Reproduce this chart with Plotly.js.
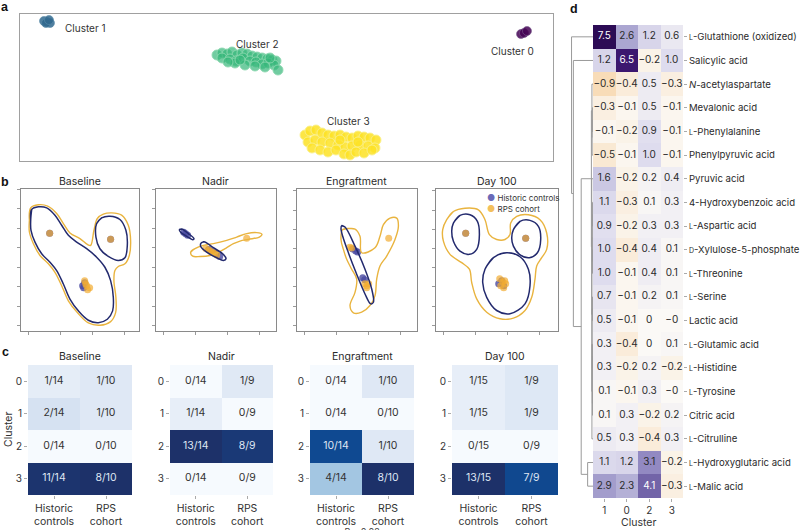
<!DOCTYPE html>
<html><head><meta charset="utf-8">
<script src="https://cdn.plot.ly/plotly-3.0.1.min.js"></script>
<style>html,body{margin:0;padding:0;background:#fff;}#chart{width:800px;height:530px;}</style>
</head><body><div id="chart"></div>
<script>
// ================= DATA =================
// Panel a: embedding coordinates per cluster
const a_c0_x = [501, 504, 507];
const a_c0_y = [127, 128, 130];
const a_c1_x = [24, 27, 30, 26, 29];
const a_c1_y = [140, 139, 138, 138, 141];
const a_c2_x = [197,202,207,212,217,222,227,232,237,242,247,252,256,202,210,216,223,230,236,242,248,254,258,215,225,235,245,208,220,250];
const a_c2_y = [106,108,107,109,106,108,107,105,104,103,102,101,100,103,102,100,103,100,99,97,98,96,91,98,96,95,94,99,101,103];
const a_c3_x = [285,290,296,302,308,314,320,326,332,338,344,350,356,288,295,302,310,318,325,332,340,348,355,292,300,308,316,324,330,336,344,352,320,338];
const a_c3_y = [26,30,31,28,26,25,26,24,23,25,24,23,21,19,21,19,18,16,14,15,16,15,13,13,11,9,11,7,6,9,8,11,21,19];

// Panel b: density contour rings (historic controls / RPS cohort) and sample points
const b_titles = ['Baseline', 'Nadir', 'Engraftment', 'Day 100'];
const b_hc_rings_x = [
  [[10,11,17.7,26,34.3,41,47.7,56,66,76,84.3,90,92.7,92,86.7,77.7,67.7,57.7,49.3,42.7,36,29.3,21,14.3,10.3],
   [76,81,89.3,99.3,105.3,106.7,104.3,97.7,87.7,79.3,75.3]],
  [[23.7,26,32.7,38.3,37,31,25],
   [45.3,48.3,57.7,67.7,70.3,67.7,61,51,45]],
  [[45,48.3,58.3,68.3,75,76.7,74,68.3,59.3,51.7,46,44.3]],
  [[17.7,24.3,34.3,41.7,43.7,41,33.7,24.3,17.7,16],
   [77.7,84.3,94.3,102.7,105,101.7,93.7,83.7,77.7,76],
   [49.3,57.7,71,84.3,92.7,94.3,89.3,74.3,61,51,47]]
];
const b_hc_rings_y = [
  [[110,120.7,123.3,122.3,115,105,95,88.3,81.7,73.3,63.3,50,33.3,20,11.7,8.3,10.7,20,31.7,46.7,60,68.3,76.7,88.3,100],
   [106.7,112.3,114,110.7,100,85,72.7,70,74,81.7,93.3]],
  [[100.7,101.3,96.7,91.7,90.7,94,98],
   [87.3,88.7,82.7,76,71.7,70,72.7,78.3,84]],
  [[105.7,104.3,85,61.7,41.7,28.3,26.7,36.7,58.3,78.3,95,102.3]],
  [[108.3,116,116.7,110,96.7,81.7,76.7,80,90,100],
   [101.7,110,111,105,91.7,78.3,73.3,76.7,85,93.3],
   [61.7,73.3,78.3,74.3,61.7,45,26.7,16.7,20,33.3,48.3]]
];
const b_rps_rings_x = [
  [[8.7,10,17.7,27,36,42.7,49.3,59.3,66.7,70,73.3,76.7,82.7,91,101,107.7,110,108.7,104.3,97.7,94.3,93.3,95.3,95,90,79.3,67.7,56.7,47.7,41,34.3,27.7,19.3,12.7,8.7]],
  [[35,39.3,47.7,57.7,71,81,91,101,106.3,103.7,92.7,84.3,77.7,71,62.7,54.3,44.3,37]],
  [[46,58.3,63.3,65,78.3,83.3,86.7,93.3,100,101.7,98.3,90,83.3,80,78.3,73.3,65,56.7,53.3,58.3,60,55,50,46.7,44.3]],
  [[11,17.7,29.3,42.7,49.3,53.7,61,69.3,74.3,75,81,92.7,104.3,111,111,106,101,99.3,96,89.3,77.7,64.3,51,41,36,33.7,26,14.3,7.7,7]]
];
const b_rps_rings_y = [
  [[110,122.3,125.3,124,116.7,106.7,97.3,91.7,86,85,100,111.7,116,117.3,115,105,90,75,66.7,64,60,50,33.3,18.3,9.3,5.7,8,18.3,30,45,58.3,66.7,75,86.7,98.3]],
  [[78.3,81.7,85,86.7,90,93.3,96.7,97.7,96,93.3,91,89.3,86.7,82.7,78.3,75,74,74.3]],
  [[101.7,102.3,95,78.3,83.3,95,106.7,113.3,113.3,105,91.7,75,65,51.7,35,25,18.3,17.7,25,38.3,51.7,61.7,71.7,81.7,91.7]],
  [[111.7,120,123.3,121.7,111.7,96.7,91.7,91.7,96.7,108.3,115,116.7,111.7,98.3,81.7,73.3,65,51.7,33.3,20,12.3,11.7,18.3,31.7,48.3,61.7,68.3,76.7,90,101.7]]
];
const b_hc_pts_x = [[29,90,62,64,63],[28,30,32,53,57,60,64],[56,59,61,66,68],[30,90,63,66,68]];
const b_hc_pts_y = [[97,91,45,48,43],[98,96.5,95,81,79,77,74],[82,80,79,53,51],[98,93,47,50,45]];
const b_rps_pts_x = [[29,90,64,66,69,67,65],[50,53,55,57,59,61,91],[53,55,68,70,72,70,92],[30,90,64,67,70,68,65,69]];
const b_rps_pts_y = [[97,91,50,45,43,41,47],[82,80.5,79,78,77,75.5,92],[84,83,47,45,47,43,93],[98,93,52,49,47,43,45,50]];

// Panel c: cluster membership counts
const c_titles = ['Baseline', 'Nadir', 'Engraftment', 'Day 100'];
const c_groups = ['Historic<br>controls', 'RPS<br>cohort'];
const c_clusters = ['0', '1', '2', '3'];
const c_hc_num  = [[1,2,0,11],[0,1,13,0],[0,0,10,4],[1,1,0,13]];
const c_hc_den  = [14, 14, 14, 15];
const c_rps_num = [[1,1,0,8],[1,0,8,0],[1,0,1,8],[1,1,0,7]];
const c_rps_den = [10, 9, 10, 9];

// Panel d: metabolite enrichment per cluster
const d_clusters = ['1', '0', '2', '3'];
const d_metabolites = [
  '<span style="font-size:7px">L</span>-Glutathione (oxidized)',
  'Salicylic acid',
  '<i>N</i>-acetylaspartate',
  'Mevalonic acid',
  '<span style="font-size:7px">L</span>-Phenylalanine',
  'Phenylpyruvic acid',
  'Pyruvic acid',
  '4-Hydroxybenzoic acid',
  '<span style="font-size:7px">L</span>-Aspartic acid',
  '<span style="font-size:7px">D</span>-Xylulose-5-phosphate',
  '<span style="font-size:7px">L</span>-Threonine',
  '<span style="font-size:7px">L</span>-Serine',
  'Lactic acid',
  '<span style="font-size:7px">L</span>-Glutamic acid',
  '<span style="font-size:7px">L</span>-Histidine',
  '<span style="font-size:7px">L</span>-Tyrosine',
  'Citric acid',
  '<span style="font-size:7px">L</span>-Citrulline',
  '<span style="font-size:7px">L</span>-Hydroxyglutaric acid',
  '<span style="font-size:7px">L</span>-Malic acid'
];
const d_values = [
  [7.5, 2.6, 1.2, 0.6],
  [1.2, 6.5, -0.2, 1.0],
  [-0.9, -0.4, 0.5, -0.3],
  [-0.3, -0.1, 0.5, -0.1],
  [-0.1, -0.2, 0.9, -0.1],
  [-0.5, -0.1, 1.0, -0.1],
  [1.6, -0.2, 0.2, 0.4],
  [1.1, -0.3, 0.1, 0.3],
  [0.9, -0.2, 0.3, 0.3],
  [1.0, -0.4, 0.4, 0.1],
  [1.0, -0.1, 0.4, 0.1],
  [0.7, -0.1, 0.2, 0.1],
  [0.5, -0.1, 0, -0],
  [0.3, -0.4, 0, 0.1],
  [0.3, -0.2, 0.2, -0.2],
  [0.1, -0.1, 0.3, -0],
  [0.1, 0.3, -0.2, 0.2],
  [0.5, 0.3, -0.4, 0.3],
  [1.1, 1.2, 3.1, -0.2],
  [2.9, 2.3, 4.1, -0.3]
];
// dendrogram links (row positions / merge heights)
const d_link_rows = [
  [3,3,4,4],[3.5,3.5,5,5],[2,2,4.25,4.25],
  [7,7,8,8],[9,9,10,10],[7.5,7.5,9.5,9.5],
  [11,11,12,12],[13,13,14,14],[15,15,16,16],[13.5,13.5,15.5,15.5],
  [11.5,11.5,14.5,14.5],[13,13,17,17],[8.5,8.5,15,15],[6,6,11.75,11.75],
  [3.125,3.125,8.875,8.875],[18,18,19,19],[6,6,18.5,18.5],
  [1,1,12.25,12.25],[0,0,6.625,6.625]
];
const d_link_heights = [
  [0,0.6,0.6,0],[0.6,0.8,0.8,0],[0,1.0,1.0,0.8],
  [0,0.4,0.4,0],[0,0.4,0.4,0],[0.4,0.6,0.6,0.4],
  [0,0.4,0.4,0],[0,0.3,0.3,0],[0,0.4,0.4,0],[0.3,0.6,0.6,0.4],
  [0.4,0.8,0.8,0.6],[0.8,1.0,1.0,0],[0.6,1.1,1.1,1.0],[0,1.2,1.2,1.1],
  [1.0,1.5,1.5,1.2],[0,5,5,0],[1.5,11,11,5],
  [0,18.3,18.3,11],[0,20,20,18.3]
];

// ================= BUILD =================
const W = 800, H = 530;
const FONT = 'Inter, "Noto Sans", sans-serif';
const dx = (a, b) => [a / W, b / W];
const dy = (top, bot) => [1 - bot / H, 1 - top / H];
const traces = [];
const layout = {
  width: W, height: H, margin: {l: 0, r: 0, t: 0, b: 0},
  paper_bgcolor: '#fff', plot_bgcolor: 'rgba(0,0,0,0)',
  showlegend: false, font: {family: FONT, size: 10, color: '#333'},
  annotations: []
};
function ann(text, x, y, o) {
  layout.annotations.push(Object.assign({text: text, x: x / W, y: 1 - y / H, xref: 'paper', yref: 'paper',
    showarrow: false, xanchor: 'center', yanchor: 'middle', font: {family: FONT, size: 10.5, color: '#2a2a2a'}}, o || {}));
}
const plain = {showgrid: false, zeroline: false};

// ---- Panel a ----
layout.xaxis = Object.assign({domain: dx(20, 553), range: [0, 533], showline: true, mirror: true, linecolor: '#a0a0a0', linewidth: 1, showticklabels: false, ticks: ''}, plain);
layout.yaxis = Object.assign({domain: dy(14, 161), range: [0, 147], showline: true, mirror: true, linecolor: '#a0a0a0', linewidth: 1, showticklabels: false, ticks: ''}, plain);
const aSets = [
  [a_c0_x, a_c0_y, 'rgba(68,1,84,0.85)', 'rgba(120,90,140,0.6)', 9],
  [a_c1_x, a_c1_y, 'rgba(49,104,142,0.85)', 'rgba(90,140,170,0.6)', 9],
  [a_c2_x, a_c2_y, 'rgba(53,183,121,0.7)', 'rgba(140,215,175,0.9)', 10],
  [a_c3_x, a_c3_y, 'rgba(253,226,37,0.85)', 'rgba(250,240,140,0.9)', 10]
];
aSets.forEach(s => traces.push({type: 'scatter', mode: 'markers', x: s[0], y: s[1], xaxis: 'x', yaxis: 'y',
  marker: {color: s[2], size: s[4], line: {color: s[3], width: 1}}, hoverinfo: 'skip'}));
ann('Cluster 1', 85, 28, {font: {family: FONT, size: 10, color: '#333'}});
ann('Cluster 2', 257, 44, {font: {family: FONT, size: 10, color: '#333'}});
ann('Cluster 3', 348, 121, {font: {family: FONT, size: 10, color: '#333'}});
ann('Cluster 0', 512, 51, {font: {family: FONT, size: 10, color: '#333'}});

// ---- Panel b ----
const bDomX = [[20.7, 139.3], [155.7, 275.5], [296.7, 416.7], [435.7, 558]];
const bRangeX = [[0, 118.7], [0, 119.8], [0, 120], [0, 122.3]];
const bRangeY = [[0, 141], [0, 141], [-0.7, 142.7], [-0.7, 142.7]];
function ringsToLine(rx, ry) {
  const xs = [], ys = [];
  rx.forEach((r, k) => { r.forEach((v, j) => { xs.push(v); ys.push(ry[k][j]); });
    xs.push(r[0], r[1]); ys.push(ry[k][0], ry[k][1]); xs.push(null); ys.push(null); });
  return [xs, ys];
}
for (let i = 0; i < 4; i++) {
  const n = i + 2, xa = 'x' + n, ya = 'y' + n;
  layout['xaxis' + n] = Object.assign({domain: dx(bDomX[i][0], bDomX[i][1]), range: bRangeX[i], showline: true, mirror: true,
    linecolor: '#8a8a8a', linewidth: 1, showticklabels: false, ticks: 'outside', ticklen: 3, tickcolor: '#9a9a9a',
    tick0: 7.5, dtick: 32, anchor: ya}, plain);
  layout['yaxis' + n] = Object.assign({domain: dy(189, 331), range: bRangeY[i], showline: true, mirror: true,
    linecolor: '#8a8a8a', linewidth: 1, showticklabels: false, ticks: 'outside', ticklen: 3, tickcolor: '#9a9a9a',
    tick0: 5, dtick: 19.4, anchor: xa}, plain);
  traces.push({type: 'scatter', mode: 'markers', x: b_hc_pts_x[i], y: b_hc_pts_y[i], xaxis: xa, yaxis: ya,
    marker: {color: 'rgba(72,72,160,0.8)', size: 7}, hoverinfo: 'skip'});
  traces.push({type: 'scatter', mode: 'markers', x: b_rps_pts_x[i], y: b_rps_pts_y[i], xaxis: xa, yaxis: ya,
    marker: {color: 'rgba(242,172,50,0.7)', size: 7}, hoverinfo: 'skip'});
  const rp = ringsToLine(b_rps_rings_x[i], b_rps_rings_y[i]);
  traces.push({type: 'scatter', mode: 'lines', x: rp[0], y: rp[1], xaxis: xa, yaxis: ya, connectgaps: false,
    line: {color: '#e9b43f', width: 1.4, shape: 'spline', smoothing: 1}, hoverinfo: 'skip'});
  const hp = ringsToLine(b_hc_rings_x[i], b_hc_rings_y[i]);
  traces.push({type: 'scatter', mode: 'lines', x: hp[0], y: hp[1], xaxis: xa, yaxis: ya, connectgaps: false,
    line: {color: '#232a6e', width: 1.5, shape: 'spline', smoothing: 1}, hoverinfo: 'skip'});
  ann(b_titles[i], (bDomX[i][0] + bDomX[i][1]) / 2, 181);
}
ann('<span style="color:#6a6ab8;font-size:9px">●</span> Historic controls', 485, 197.5, {xanchor: 'left', font: {family: FONT, size: 8, color: '#333'}});
ann('<span style="color:#f3c05c;font-size:9px">●</span> RPS cohort', 485, 208, {xanchor: 'left', font: {family: FONT, size: 8, color: '#333'}});

// ---- Panel c ----
const cDomX = [[28, 132], [170, 273], [310, 414], [452, 558]];
const cScale = [[0, '#f6fafe'], [0.1, '#e3ebf6'], [0.2, '#d3e0f1'], [0.36, '#a2c6e2'], [0.6, '#4f8fc6'],
  [0.88, '#0d4c97'], [0.95, '#1a3a78'], [1, '#1d3169']];
for (let i = 0; i < 4; i++) {
  const n = i + 6, xa = 'x' + n, ya = 'y' + n;
  const z = c_clusters.map((c, r) => [c_hc_num[i][r] / c_hc_den[i], c_rps_num[i][r] / c_rps_den[i]]);
  const zmax = Math.max.apply(null, z.flat());
  layout['xaxis' + n] = Object.assign({domain: dx(cDomX[i][0], cDomX[i][1]), type: 'category', anchor: ya,
    ticks: 'outside', ticklen: 3, tickcolor: '#aaa', showline: false, tickfont: {family: FONT, size: 10.5, color: '#333'}}, plain);
  layout['yaxis' + n] = Object.assign({domain: dy(365, 495), type: 'category', autorange: 'reversed', anchor: xa,
    ticks: 'outside', ticklen: 3, tickcolor: '#aaa', showline: false, tickfont: {family: FONT, size: 10, color: '#333'}}, plain);
  traces.push({type: 'heatmap', x: c_groups, y: c_clusters, z: z, xaxis: xa, yaxis: ya, colorscale: cScale,
    zmin: 0, zmax: zmax, showscale: false, hoverinfo: 'skip'});
  const tx = [], ty = [], tt = [], tc = [];
  c_clusters.forEach((c, r) => {
    tx.push(c_groups[0]); ty.push(c); tt.push(c_hc_num[i][r] + '/' + c_hc_den[i]);
    tc.push(z[r][0] / zmax > 0.84 ? '#dfe6f3' : '#333');
    tx.push(c_groups[1]); ty.push(c); tt.push(c_rps_num[i][r] + '/' + c_rps_den[i]);
    tc.push(z[r][1] / zmax > 0.84 ? '#dfe6f3' : '#333');
  });
  traces.push({type: 'scatter', mode: 'text', x: tx, y: ty, text: tt, xaxis: xa, yaxis: ya,
    textfont: {family: FONT, size: 10.5, color: tc}, hoverinfo: 'skip'});
  ann(c_titles[i], (cDomX[i][0] + cDomX[i][1]) / 2, 356);
}
ann('Cluster', 8, 430, {textangle: -90, font: {family: FONT, size: 10.5, color: '#333'}});
ann('<i>P</i> = 0.02', 362, 531, {font: {family: FONT, size: 9, color: '#444'}});

// ---- Panel d ----
const dScale = [[0, '#f6c98e'], [0.1667, '#fbf9f6'], [0.2778, '#dedcee'], [0.4222, '#b4b0d6'], [0.4889, '#a39dcc'],
  [0.5111, '#9289c2'], [0.6222, '#7264a8'], [0.8889, '#3c176f'], [1, '#2c0b55']];
const rowIdx = d_metabolites.map((m, k) => k);
layout.xaxis10 = Object.assign({domain: dx(593, 683), type: 'category', anchor: 'y10', ticks: 'outside', ticklen: 3,
  tickcolor: '#aaa', tickfont: {family: FONT, size: 10, color: '#333'}}, plain);
layout.yaxis10 = Object.assign({domain: dy(25, 498), range: [19.5, -0.5], anchor: 'x10', side: 'right',
  tickvals: rowIdx, ticktext: d_metabolites, ticks: 'outside', ticklen: 3, tickcolor: '#aaa',
  tickfont: {family: FONT, size: 9.6, color: '#2a2a2a'}}, plain);
traces.push({type: 'heatmap', x: d_clusters, y: rowIdx, z: d_values, xaxis: 'x10', yaxis: 'y10', colorscale: dScale,
  zmin: -1.5, zmax: 7.5, showscale: false, hoverinfo: 'skip'});
const fmt = v => (Object.is(v, -0) ? '\u22120' : (v === 0 ? '0' : v.toFixed(1).replace('-', '\u2212')));
const dtx = [], dty = [], dtt = [], dtc = [];
d_values.forEach((row, r) => row.forEach((v, c) => {
  dtx.push(d_clusters[c]); dty.push(r); dtt.push(fmt(v)); dtc.push(v >= 4 ? '#ffffff' : '#2a2a2a');
}));
traces.push({type: 'scatter', mode: 'text', x: dtx, y: dty, text: dtt, xaxis: 'x10', yaxis: 'y10',
  textfont: {family: FONT, size: 10, color: dtc}, hoverinfo: 'skip'});
layout.xaxis11 = Object.assign({domain: dx(571, 593), range: [20.5, 0], anchor: 'y11', visible: false}, plain);
layout.yaxis11 = Object.assign({domain: dy(25, 498), range: [19.5, -0.5], anchor: 'x11', visible: false}, plain);
const lx = [], ly = [];
d_link_rows.forEach((rows, k) => { for (let j = 0; j < 4; j++) { lx.push(d_link_heights[k][j]); ly.push(rows[j]); } lx.push(null); ly.push(null); });
traces.push({type: 'scatter', mode: 'lines', x: lx, y: ly, xaxis: 'x11', yaxis: 'y11', connectgaps: false,
  line: {color: '#9a9a9a', width: 1}, hoverinfo: 'skip'});
ann('Cluster', 638, 522, {font: {family: FONT, size: 10.5, color: '#333'}});

// panel letters
const bold = {font: {family: 'Liberation Sans, Arial, sans-serif', size: 12.5, color: '#111'}};
ann('<b>a</b>', 5, 7, bold);
ann('<b>b</b>', 5, 182, bold);
ann('<b>c</b>', 5, 352, bold);
ann('<b>d</b>', 574, 9, bold);

Plotly.newPlot('chart', traces, layout, {staticPlot: true, displayModeBar: false});
</script></body></html>
